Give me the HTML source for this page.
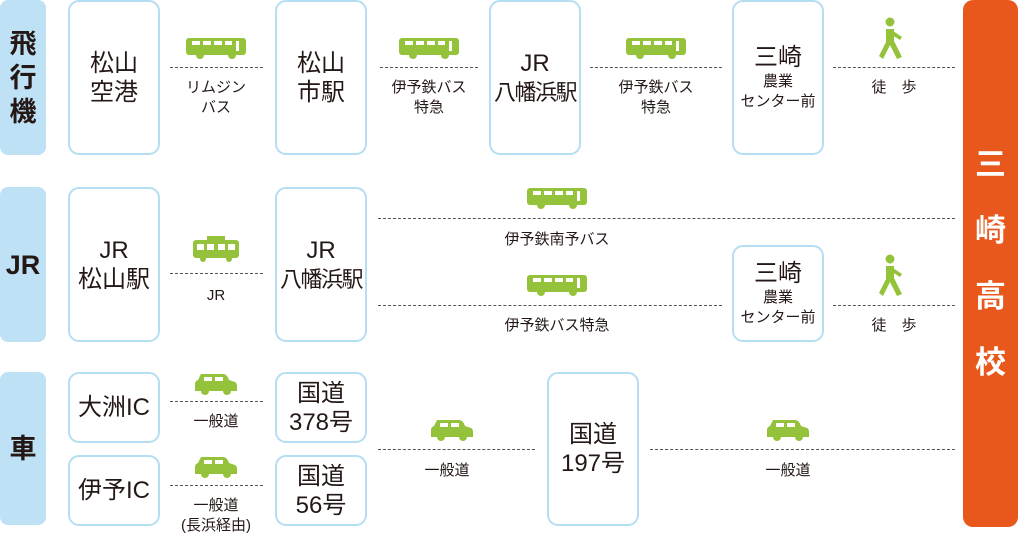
<!DOCTYPE html>
<html><head><meta charset="utf-8"><style>
body{margin:0;width:1024px;height:535px;background:#fff;position:relative;overflow:hidden;font-family:"Liberation Sans","Noto Sans CJK JP",sans-serif;color:#231815}
.a{position:absolute}
.lab{position:absolute;left:0;width:46px;background:#bfe1f5;border-radius:8px;display:flex;align-items:center;justify-content:center;font-weight:bold;font-size:27px;line-height:34px;text-align:center}
.box{position:absolute;border:2px solid #b5def2;border-radius:11px;box-sizing:border-box;display:flex;flex-direction:column;align-items:center;justify-content:center;text-align:center;font-size:24px;line-height:29px;background:#fff;white-space:nowrap}
.n{font-size:22px;letter-spacing:-1.5px}
.sm{font-size:15px;line-height:20px}
.d{position:absolute;border-top:1.5px dashed #555;height:0}
.t{position:absolute;font-size:15px;line-height:20px;text-align:center;transform:translateX(-50%);white-space:nowrap}
.ic{position:absolute;transform:translateX(-50%)}
</style></head><body>
<div class="lab" style="top:0;height:155px">飛<br>行<br>機</div>
<div class="lab" style="top:187px;height:155px">JR</div>
<div class="lab" style="top:372px;height:153px">車</div>
<div class="a" style="left:963px;top:0;width:55px;height:527px;background:#e8581c;border-radius:10px;color:#fff;font-weight:bold;font-size:31px;line-height:66px;display:flex;align-items:center;justify-content:center;text-align:center">三<br>崎<br>高<br>校</div>

<div class="box" style="left:68px;top:0;width:92px;height:155px">松山<br>空港</div>
<div class="box" style="left:275px;top:0;width:92px;height:155px">松山<br>市駅</div>
<div class="box" style="left:489px;top:0;width:92px;height:155px"><div>JR</div><div class="n">八幡浜駅</div></div>
<div class="box" style="left:732px;top:0;width:92px;height:155px"><div>三崎</div><div class="sm">農業<br>センター前</div></div>

<div class="box" style="left:68px;top:187px;width:92px;height:155px">JR<br>松山駅</div>
<div class="box" style="left:275px;top:187px;width:92px;height:155px"><div>JR</div><div class="n">八幡浜駅</div></div>
<div class="box" style="left:732px;top:245px;width:92px;height:97px"><div>三崎</div><div class="sm">農業<br>センター前</div></div>

<div class="box" style="left:68px;top:372px;width:92px;height:71px">大洲IC</div>
<div class="box" style="left:68px;top:455px;width:92px;height:71px">伊予IC</div>
<div class="box" style="left:275px;top:372px;width:92px;height:71px">国道<br>378号</div>
<div class="box" style="left:275px;top:455px;width:92px;height:71px">国道<br>56号</div>
<div class="box" style="left:547px;top:372px;width:92px;height:154px">国道<br>197号</div>

<div class="d" style="left:170px;top:67px;width:93px"></div>
<div class="d" style="left:380px;top:67px;width:98px"></div>
<div class="d" style="left:590px;top:67px;width:132px"></div>
<div class="d" style="left:833px;top:67px;width:122px"></div>
<div class="d" style="left:170px;top:273px;width:93px"></div>
<div class="d" style="left:378px;top:218px;width:577px"></div>
<div class="d" style="left:378px;top:305px;width:344px"></div>
<div class="d" style="left:833px;top:305px;width:122px"></div>
<div class="d" style="left:170px;top:401px;width:93px"></div>
<div class="d" style="left:170px;top:485px;width:93px"></div>
<div class="d" style="left:378px;top:449px;width:157px"></div>
<div class="d" style="left:650px;top:449px;width:305px"></div>

<div class="t" style="left:216px;top:78px">リムジン<br>バス</div>
<div class="t" style="left:429px;top:78px">伊予鉄バス<br>特急</div>
<div class="t" style="left:656px;top:78px">伊予鉄バス<br>特急</div>
<div class="t" style="left:894px;top:78px">徒　歩</div>
<div class="t" style="left:216px;top:286px">JR</div>
<div class="t" style="left:557px;top:230px">伊予鉄南予バス</div>
<div class="t" style="left:557px;top:316px">伊予鉄バス特急</div>
<div class="t" style="left:894px;top:316px">徒　歩</div>
<div class="t" style="left:216px;top:412px">一般道</div>
<div class="t" style="left:216px;top:496px">一般道<br>(長浜経由)</div>
<div class="t" style="left:447px;top:461px">一般道</div>
<div class="t" style="left:788px;top:461px">一般道</div>

<svg class="ic" style="left:216px;top:38px" width="60" height="22" viewBox="0 0 60 22"><rect x="0" y="0" width="60" height="17" rx="3" fill="#94c23a"/><rect x="6" y="3" width="8" height="4" fill="#fff"/><rect x="17" y="3" width="8" height="4" fill="#fff"/><rect x="28" y="3" width="8" height="4" fill="#fff"/><rect x="39" y="3" width="7" height="4" fill="#fff"/><rect x="50" y="3" width="3" height="10" fill="#fff"/><circle cx="14" cy="17" r="4" fill="#94c23a"/><circle cx="46" cy="17" r="4" fill="#94c23a"/></svg>
<svg class="ic" style="left:429px;top:38px" width="60" height="22" viewBox="0 0 60 22"><rect x="0" y="0" width="60" height="17" rx="3" fill="#94c23a"/><rect x="6" y="3" width="8" height="4" fill="#fff"/><rect x="17" y="3" width="8" height="4" fill="#fff"/><rect x="28" y="3" width="8" height="4" fill="#fff"/><rect x="39" y="3" width="7" height="4" fill="#fff"/><rect x="50" y="3" width="3" height="10" fill="#fff"/><circle cx="14" cy="17" r="4" fill="#94c23a"/><circle cx="46" cy="17" r="4" fill="#94c23a"/></svg>
<svg class="ic" style="left:656px;top:38px" width="60" height="22" viewBox="0 0 60 22"><rect x="0" y="0" width="60" height="17" rx="3" fill="#94c23a"/><rect x="6" y="3" width="8" height="4" fill="#fff"/><rect x="17" y="3" width="8" height="4" fill="#fff"/><rect x="28" y="3" width="8" height="4" fill="#fff"/><rect x="39" y="3" width="7" height="4" fill="#fff"/><rect x="50" y="3" width="3" height="10" fill="#fff"/><circle cx="14" cy="17" r="4" fill="#94c23a"/><circle cx="46" cy="17" r="4" fill="#94c23a"/></svg>
<svg class="ic" style="left:557px;top:188px" width="60" height="22" viewBox="0 0 60 22"><rect x="0" y="0" width="60" height="17" rx="3" fill="#94c23a"/><rect x="6" y="3" width="8" height="4" fill="#fff"/><rect x="17" y="3" width="8" height="4" fill="#fff"/><rect x="28" y="3" width="8" height="4" fill="#fff"/><rect x="39" y="3" width="7" height="4" fill="#fff"/><rect x="50" y="3" width="3" height="10" fill="#fff"/><circle cx="14" cy="17" r="4" fill="#94c23a"/><circle cx="46" cy="17" r="4" fill="#94c23a"/></svg>
<svg class="ic" style="left:557px;top:275px" width="60" height="22" viewBox="0 0 60 22"><rect x="0" y="0" width="60" height="17" rx="3" fill="#94c23a"/><rect x="6" y="3" width="8" height="4" fill="#fff"/><rect x="17" y="3" width="8" height="4" fill="#fff"/><rect x="28" y="3" width="8" height="4" fill="#fff"/><rect x="39" y="3" width="7" height="4" fill="#fff"/><rect x="50" y="3" width="3" height="10" fill="#fff"/><circle cx="14" cy="17" r="4" fill="#94c23a"/><circle cx="46" cy="17" r="4" fill="#94c23a"/></svg>
<svg class="ic" style="left:216px;top:236px" width="46" height="26" viewBox="0 0 46 26"><rect x="0" y="4" width="46" height="18" rx="3" fill="#94c23a"/><rect x="14" y="0" width="18" height="4" fill="#94c23a"/><rect x="4" y="8" width="7" height="6" fill="#fff"/><rect x="14" y="8" width="7" height="6" fill="#fff"/><rect x="25" y="8" width="7" height="6" fill="#fff"/><rect x="35" y="8" width="7" height="6" fill="#fff"/><circle cx="10" cy="23" r="3" fill="#94c23a"/><circle cx="36" cy="23" r="3" fill="#94c23a"/></svg>
<svg class="ic" style="left:891px;top:17px" width="26" height="44" viewBox="0 0 26 44"><circle cx="12" cy="5" r="4.5" fill="#94c23a"/><path d="M8 12 L16 12 L16 24 L24 40 L19 42 L12 28 L5 42 L1 39 L8 25 Z" fill="#94c23a"/><path d="M15 14 L24 20 L22 23 L14 18Z" fill="#94c23a"/></svg>
<svg class="ic" style="left:891px;top:254px" width="26" height="44" viewBox="0 0 26 44"><circle cx="12" cy="5" r="4.5" fill="#94c23a"/><path d="M8 12 L16 12 L16 24 L24 40 L19 42 L12 28 L5 42 L1 39 L8 25 Z" fill="#94c23a"/><path d="M15 14 L24 20 L22 23 L14 18Z" fill="#94c23a"/></svg>
<svg class="ic" style="left:216px;top:372px" width="42" height="24" viewBox="0 0 42 24"><path d="M6 2 L28 2 Q32 2 34 8 L40 10 Q42 11 42 14 L42 19 L0 19 L0 12 Q0 9 3 8 Z" fill="#94c23a"/><rect x="9" y="5" width="8" height="4" fill="#fff"/><rect x="20" y="5" width="8" height="4" fill="#fff"/><circle cx="10" cy="19" r="4" fill="#94c23a"/><circle cx="32" cy="19" r="4" fill="#94c23a"/></svg>
<svg class="ic" style="left:216px;top:455px" width="42" height="24" viewBox="0 0 42 24"><path d="M6 2 L28 2 Q32 2 34 8 L40 10 Q42 11 42 14 L42 19 L0 19 L0 12 Q0 9 3 8 Z" fill="#94c23a"/><rect x="9" y="5" width="8" height="4" fill="#fff"/><rect x="20" y="5" width="8" height="4" fill="#fff"/><circle cx="10" cy="19" r="4" fill="#94c23a"/><circle cx="32" cy="19" r="4" fill="#94c23a"/></svg>
<svg class="ic" style="left:452px;top:418px" width="42" height="24" viewBox="0 0 42 24"><path d="M6 2 L28 2 Q32 2 34 8 L40 10 Q42 11 42 14 L42 19 L0 19 L0 12 Q0 9 3 8 Z" fill="#94c23a"/><rect x="9" y="5" width="8" height="4" fill="#fff"/><rect x="20" y="5" width="8" height="4" fill="#fff"/><circle cx="10" cy="19" r="4" fill="#94c23a"/><circle cx="32" cy="19" r="4" fill="#94c23a"/></svg>
<svg class="ic" style="left:788px;top:418px" width="42" height="24" viewBox="0 0 42 24"><path d="M6 2 L28 2 Q32 2 34 8 L40 10 Q42 11 42 14 L42 19 L0 19 L0 12 Q0 9 3 8 Z" fill="#94c23a"/><rect x="9" y="5" width="8" height="4" fill="#fff"/><rect x="20" y="5" width="8" height="4" fill="#fff"/><circle cx="10" cy="19" r="4" fill="#94c23a"/><circle cx="32" cy="19" r="4" fill="#94c23a"/></svg>
</body></html>
